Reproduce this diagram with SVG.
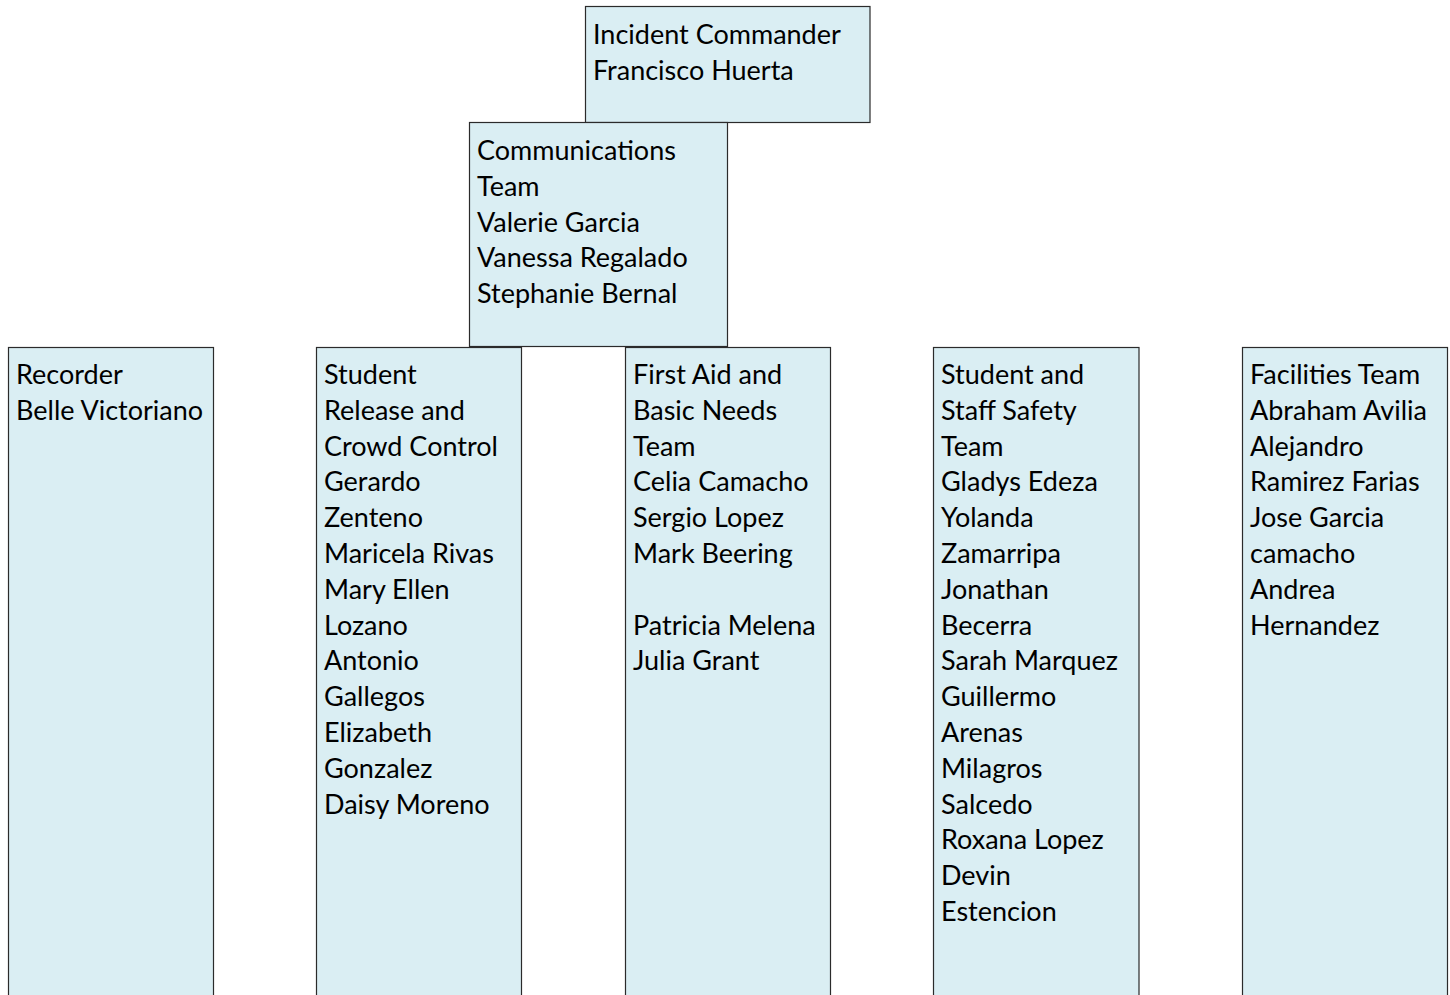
<svg xmlns="http://www.w3.org/2000/svg" width="1450" height="995" viewBox="0 0 1450 995">
<style>
.box{fill:#DAEEF3;stroke:#2b2b2b;stroke-width:1.2}
.t{font-family:Lato,"Liberation Sans",sans-serif;font-size:27px;fill:#000}
</style>
<rect width="1450" height="995" fill="#fff"/>
<g id="connectors"/>
<g id="incident-commander">
<rect class="box" x="585.5" y="6.5" width="284.5" height="116"/>
<text class="t" x="593" y="44">Incident Commander</text>
<text class="t" x="593" y="80">Francisco Huerta</text>
</g>
<g id="communications">
<rect class="box" x="469.5" y="122.5" width="258" height="224"/>
<text class="t" x="477"><tspan x="477" y="160">Communications</tspan><tspan x="477" y="196">Team</tspan><tspan x="477" y="232">Valerie Garcia</tspan><tspan x="477" y="267">Vanessa Regalado</tspan><tspan x="477" y="303">Stephanie Bernal</tspan></text>
</g>
<g id="recorder">
<rect class="box" x="8.5" y="347.5" width="205" height="660"/>
<text class="t"><tspan x="16" y="384">Recorder</tspan><tspan x="16" y="420">Belle Victoriano</tspan></text>
</g>
<g id="student-release">
<rect class="box" x="316.5" y="347.5" width="205" height="660"/>
<text class="t"><tspan x="324" y="384">Student</tspan><tspan x="324" y="420">Release and</tspan><tspan x="324" y="456">Crowd Control</tspan><tspan x="324" y="491">Gerardo</tspan><tspan x="324" y="527">Zenteno</tspan><tspan x="324" y="563">Maricela Rivas</tspan><tspan x="324" y="599">Mary Ellen</tspan><tspan x="324" y="635">Lozano</tspan><tspan x="324" y="670">Antonio</tspan><tspan x="324" y="706">Gallegos</tspan><tspan x="324" y="742">Elizabeth</tspan><tspan x="324" y="778">Gonzalez</tspan><tspan x="324" y="814">Daisy Moreno</tspan></text>
</g>
<g id="first-aid">
<rect class="box" x="625.5" y="347.5" width="205" height="660"/>
<text class="t"><tspan x="633" y="384">First Aid and</tspan><tspan x="633" y="420">Basic Needs</tspan><tspan x="633" y="456">Team</tspan><tspan x="633" y="491">Celia Camacho</tspan><tspan x="633" y="527">Sergio Lopez</tspan><tspan x="633" y="563">Mark Beering</tspan><tspan x="633" y="635">Patricia Melena</tspan><tspan x="633" y="670">Julia Grant</tspan></text>
</g>
<g id="safety">
<rect class="box" x="933.5" y="347.5" width="205.5" height="660"/>
<text class="t"><tspan x="941" y="384">Student and</tspan><tspan x="941" y="420">Staff Safety</tspan><tspan x="941" y="456">Team</tspan><tspan x="941" y="491">Gladys Edeza</tspan><tspan x="941" y="527">Yolanda</tspan><tspan x="941" y="563">Zamarripa</tspan><tspan x="941" y="599">Jonathan</tspan><tspan x="941" y="635">Becerra</tspan><tspan x="941" y="670">Sarah Marquez</tspan><tspan x="941" y="706">Guillermo</tspan><tspan x="941" y="742">Arenas</tspan><tspan x="941" y="778">Milagros</tspan><tspan x="941" y="814">Salcedo</tspan><tspan x="941" y="849">Roxana Lopez</tspan><tspan x="941" y="885">Devin</tspan><tspan x="941" y="921">Estencion</tspan></text>
</g>
<g id="facilities">
<rect class="box" x="1242.5" y="347.5" width="205" height="660"/>
<text class="t"><tspan x="1250" y="384">Facilities Team</tspan><tspan x="1250" y="420">Abraham Avilia</tspan><tspan x="1250" y="456">Alejandro</tspan><tspan x="1250" y="491">Ramirez Farias</tspan><tspan x="1250" y="527">Jose Garcia</tspan><tspan x="1250" y="563">camacho</tspan><tspan x="1250" y="599">Andrea</tspan><tspan x="1250" y="635">Hernandez</tspan></text>
</g>
</svg>
